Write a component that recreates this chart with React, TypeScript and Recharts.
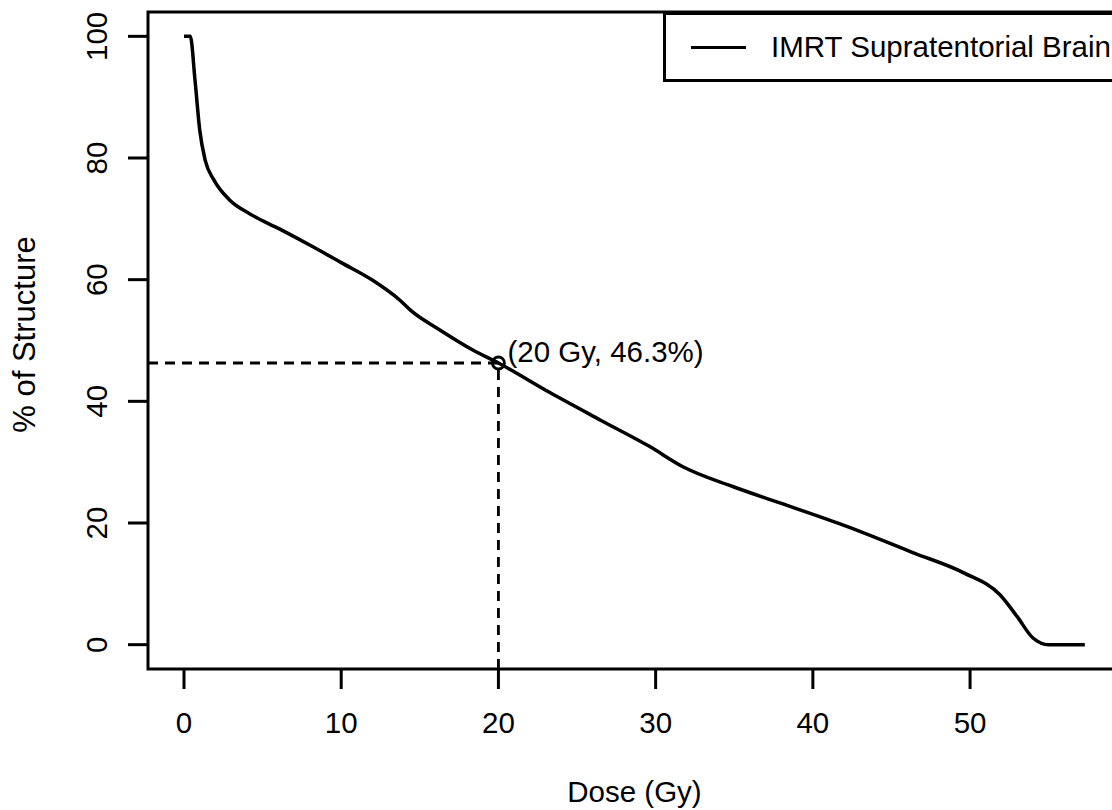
import React from 'react';
import { LineChart, Line, XAxis, YAxis, ReferenceLine, ReferenceDot, ReferenceArea, Label } from 'recharts';

// dose-volume histogram
const doses = [0, 0.4, 0.7, 1.0, 1.35, 1.9, 2.9, 4.2, 6.1, 8.2, 10, 12, 13.7, 14.4, 16.3, 18.4, 20, 23.3, 26.5, 29.6, 31.7, 34.9, 37.9, 42.2, 46.4, 49.6, 51.9, 53, 54, 55, 57.3];
const percents = [100, 100, 92.8, 84.6, 79.6, 76.4, 73.1, 70.8, 68.3, 65.4, 62.8, 59.9, 56.7, 55.0, 51.7, 48.4, 46.3, 41.4, 36.9, 32.6, 29.3, 26.0, 23.3, 19.4, 15.1, 11.8, 8.2, 4.6, 1.1, 0, 0];

const xTicks = [0, 10, 20, 30, 40, 50];
const yTicks = [0, 20, 40, 60, 80, 100];
const xDomain: [number, number] = [-2.29, 59.6];
const yDomain: [number, number] = [-4, 104];

const markDose = 20;
const markPct = 46.3;
const markLabel = '(20 Gy, 46.3%)';
const seriesName = 'IMRT Supratentorial Brain';

const data = doses.map((d, i) => ({ dose: d, pct: percents[i] }));

const FONT = '"Liberation Sans", Arial, Helvetica, sans-serif';
const FS = 29.5;

const YTick = (props: any) => {
  const { x, y, payload } = props;
  const bx = x - 21;
  return (
    <text x={bx} y={y} transform={`rotate(-90, ${bx}, ${y})`} textAnchor="middle" fontSize={FS} fill="#000" fontFamily={FONT}>
      {payload.value}
    </text>
  );
};

const XTick = (props: any) => {
  const { x, y, payload } = props;
  return (
    <text x={x} y={y} dy="0.71em" textAnchor="middle" fontSize={FS} fill="#000" fontFamily={FONT}>
      {payload.value}
    </text>
  );
};

const MarkShape = (p: any) => (
  <g>
    <circle cx={p.cx} cy={p.cy} r={6} fill="none" stroke="#000" strokeWidth={2.8} />
    <text x={p.cx + 9} y={p.cy - 1} fontSize={FS} fill="#000" fontFamily={FONT}>{markLabel}</text>
  </g>
);

export default function App() {
  return (
    <div style={{ position: 'absolute', left: 0, top: 0, width: 1112, height: 810, overflow: 'hidden', background: '#fff', fontFamily: FONT }}>
      <LineChart width={1130} height={810} data={data} margin={{ top: 12, right: 9, bottom: 0, left: 0 }}>
        <XAxis
          dataKey="dose"
          type="number"
          domain={xDomain}
          allowDataOverflow
          ticks={xTicks}
          axisLine={false}
          tickSize={20}
          tickMargin={23}
          tickLine={{ stroke: '#000', strokeWidth: 3 }}
          tick={<XTick />}
          height={141}
        >
          <Label
            content={(p: any) => {
              const vb = p.viewBox;
              return (
                <text x={vb.x + vb.width / 2} y={vb.y + 133} textAnchor="middle" fontSize={FS} fill="#000" fontFamily={FONT}>
                  Dose (Gy)
                </text>
              );
            }}
          />
        </XAxis>
        <YAxis
          type="number"
          domain={yDomain}
          allowDataOverflow
          ticks={yTicks}
          axisLine={false}
          tickSize={20}
          tickMargin={0}
          tickLine={{ stroke: '#000', strokeWidth: 3 }}
          tick={<YTick />}
          width={148}
        >
          <Label
            content={(p: any) => {
              const vb = p.viewBox;
              const cx = vb.x + 35;
              const cy = vb.y + vb.height / 2 - 6;
              return (
                <text x={cx} y={cy} transform={`rotate(-90, ${cx}, ${cy})`} textAnchor="middle" fontSize={31} fill="#000" fontFamily={FONT}>
                  % of Structure
                </text>
              );
            }}
          />
        </YAxis>
        <ReferenceArea x1={xDomain[0]} x2={xDomain[1]} y1={yDomain[0]} y2={yDomain[1]} fill="none" stroke="#000" strokeWidth={3} fillOpacity={0} />
        <ReferenceLine segment={[{ x: xDomain[0], y: markPct }, { x: markDose, y: markPct }]} stroke="#000" strokeWidth={2.8} strokeDasharray="10 7" />
        <ReferenceLine segment={[{ x: markDose, y: yDomain[0] }, { x: markDose, y: markPct }]} stroke="#000" strokeWidth={2.8} strokeDasharray="10 7" />
        <Line type="monotone" dataKey="pct" stroke="#000" strokeWidth={3.5} dot={false} isAnimationActive={false} name={seriesName} />
        <ReferenceDot x={markDose} y={markPct} r={6} shape={<MarkShape />} />
      </LineChart>
      <div
        style={{
          position: 'absolute', left: 663, top: 12, width: 470, height: 70, boxSizing: 'border-box',
          border: '3px solid #000', background: '#fff', display: 'flex', alignItems: 'center',
        }}
      >
        <div style={{ marginLeft: 25, width: 55, borderTop: '3px solid #000' }} />
        <span style={{ marginLeft: 25, fontSize: FS, color: '#000', lineHeight: 1 }}>{seriesName}</span>
      </div>
    </div>
  );
}
